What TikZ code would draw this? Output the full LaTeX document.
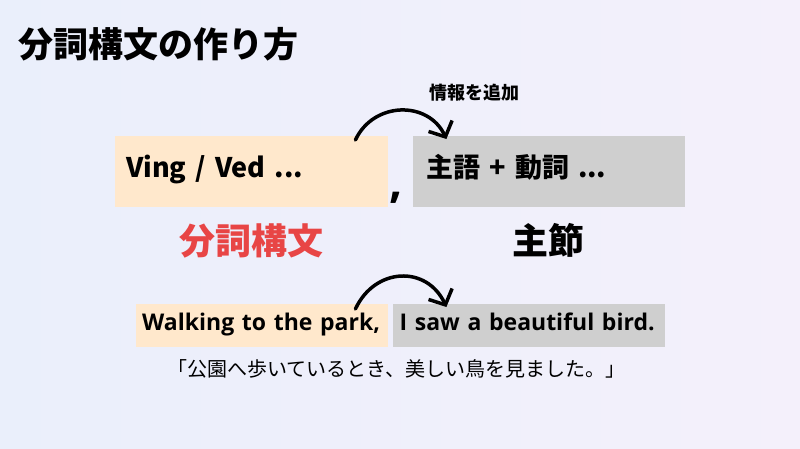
\documentclass[tikz,border=0pt]{standalone}
\usepackage{fontspec}
\setmainfont{Open Sans}
\newfontfamily\jp{Noto Sans CJK JP}
\usetikzlibrary{positioning}
\usetikzlibrary{arrows.meta}
\definecolor{softorange}{HTML}{FFE8CC}
\definecolor{softgray}{HTML}{CFCFCF}
\definecolor{warmred}{HTML}{E84545}
\definecolor{bgleft}{HTML}{EAEFFB}
\definecolor{bgright}{HTML}{F4F0FB}
\newcommand{\px}[1]{\fontsize{#1pt}{#1pt}\selectfont}
\tikzset{
  part/.style={
    rectangle,
    anchor=north west,
    align=left,
    inner ysep=0pt,
    text height=1.25em,
    text depth=0.05em,
    font=\jp\bfseries\px{27},
  },
  participle/.style={
    part,
    fill=softorange,
  },
  mainclause/.style={
    part,
    fill=softgray,
  },
  example/.style={
    part,
    font=\bfseries\px{23},
    text height=1.05em,
    text depth=0.05em,
    minimum height=43pt,
  },
  flow/.style={
    draw,
    -{Straight Barb[length=12pt,width=26pt]},
    line width=3.5pt,
    line cap=round,
  },
  tag/.style={
    font=\jp\bfseries\px{36},
    inner sep=0pt,
  },
}

\begin{document}
\begin{tikzpicture}[x=1pt,y=-1pt]
  \shade [left color=bgleft,right color=bgright] (0,0) rectangle (800,448);
  \useasboundingbox (0,0) rectangle (800,448);

  \node (title) [anchor=west,font=\jp\bfseries\px{35},inner sep=0pt] at (18,44) {分詞構文の作り方};

  \node (partbox) [participle,minimum width=273pt,minimum height=71pt,text width=251pt,inner xsep=11pt] at (115,136) {Ving / Ved ...};
  \node (mainbox) [mainclause,minimum width=272pt,minimum height=71pt,text width=244pt,inner xsep=14pt,right=24pt of partbox.north east,anchor=north west] {主語 + 動詞 ...};
  \node (comma) [font=\bfseries\px{46},inner sep=0pt] at (396,198) {,};

  \node (parttag) [tag,text=warmred,below=16pt of partbox] {分詞構文};
  \node (maintag) [tag,below=16pt of mainbox] {主節};

  \path [flow] ([xshift=-33pt,yshift=-4pt]partbox.north east) to[out=65,in=115,looseness=1.2] ([xshift=34pt,yshift=-3pt]mainbox.north west);
  \node (addinfo) [font=\jp\bfseries\px{18},inner sep=0pt] at (474,93) {情報を追加};

  \node (walking) [example,fill=softorange,minimum width=252pt,text width=240pt,inner xsep=6pt] at (136,304) {Walking to the park,};
  \node (bird) [example,fill=softgray,minimum width=272pt,text width=258pt,inner xsep=7pt,right=4pt of walking.north east,anchor=north west] {I saw a beautiful bird.};

  \path [flow] ([xshift=-33pt,yshift=-5pt]walking.north east) to[out=65,in=115,looseness=1.3] ([xshift=54pt,yshift=-3pt]bird.north west);

  \node (meaning) [font=\jp\px{20},inner sep=0pt] at (396,369) {「公園へ歩いているとき、美しい鳥を見ました。」};
\end{tikzpicture}
\end{document}
